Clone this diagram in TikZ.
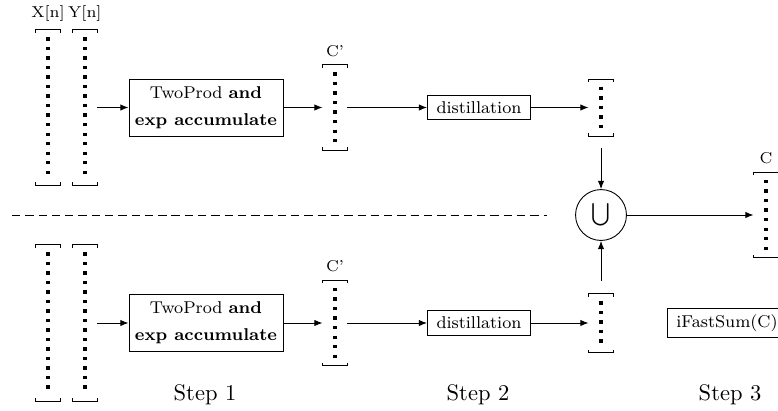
\documentclass[tikz,border=0pt]{standalone}
\usepackage{amsmath}
\usetikzlibrary{arrows.meta,positioning}

\begin{document}
\begin{tikzpicture}[x=0.444pt,y=-0.444pt,>={Latex[length=3.6pt,width=2.8pt]}]
\tikzstyle{vec}=[rectangle,inner sep=0pt,minimum width=10.66pt]
\tikzstyle{proc}=[draw,rectangle,font=\fontsize{7.6pt}{9pt}\selectfont,inner xsep=4pt,inner ysep=2.7pt]
\tikzstyle{lbl}=[font=\scriptsize,inner sep=0pt,label distance=3.4pt]
\tikzstyle{dots}=[line width=1.47pt,dash pattern=on 1.47pt off 2.75pt]
\useasboundingbox (0,0) rectangle (778,410);
% upper half
\node[vec,minimum height=68.8pt,label={[lbl]above:X[n]}] (x1) at (48,107.5) {};
\node[vec,minimum height=68.8pt,label={[lbl]above:Y[n]},right=5.3pt of x1] (y1) {};
\node[proc,inner sep=1pt,minimum width=68.4pt,minimum height=25.3pt,align=center] (t1) at (206,107.5) {TwoProd \textbf{and}\\[3pt]\textbf{exp accumulate}};
\node[vec,minimum height=37.7pt,label={[lbl]above:C'}] (c1) at (335,107.5) {};
\node[proc] (s1) at (479,107.5) {distillation};
\node[vec,minimum height=24.9pt] (d1) at (601,107.5) {};
% lower half
\node[vec,minimum height=69.3pt] (x2) at (48,323) {};
\node[vec,minimum height=69.3pt,right=5.3pt of x2] (y2) {};
\node[proc,inner sep=1pt,minimum width=68.4pt,minimum height=25.3pt,align=center] (t2) at (206,323) {TwoProd \textbf{and}\\[3pt]\textbf{exp accumulate}};
\node[vec,minimum height=37.7pt,label={[lbl]above:C'}] (c2) at (335,323) {};
\node[proc] (s2) at (479,323) {distillation};
\node[vec,minimum height=25.8pt] (d2) at (601,323) {};
% merge
\node[draw,circle,inner sep=0pt,minimum size=22.6pt] (u) at (601,215) {$\bigcup$};
\node[vec,minimum height=37.7pt,label={[lbl]above:C}] (cc) at (766,215) {};
\node[proc] (f) at (727,323) {iFastSum(C)};
\draw[dash pattern=on 3.7pt off 2.2pt] (12,215) -- (547,215);
% vector brackets and entries
\foreach \v in {x1,y1,c1,d1,x2,y2,c2,d2,cc} {
  \draw (\v.north west) ++(0,3) |- (\v.north east) -- ++(0,3);
  \draw (\v.south west) ++(0,-3) |- (\v.south east) -- ++(0,-3);
  \draw[dots] ([yshift=-3.5pt]\v.north) -- ([yshift=3.1pt]\v.south);
}
\draw[->] (y1) -- (t1);
\draw[->] (t1) -- (c1);
\draw[->] (c1) -- (s1);
\draw[->] (s1) -- (d1);
\draw[->] (y2) -- (t2);
\draw[->] (t2) -- (c2);
\draw[->] (c2) -- (s2);
\draw[->] (s2) -- (d2);
\draw[->,shorten <=5.5pt] (d1) -- (u);
\draw[->,shorten <=5.5pt] (d2) -- (u);
\draw[->] (u) -- (cc);
% steps
\node (st1) at (205,395) {Step 1};
\node (st2) at (478,395) {Step 2};
\node (st3) at (730,395) {Step 3};
\end{tikzpicture}
\end{document}
